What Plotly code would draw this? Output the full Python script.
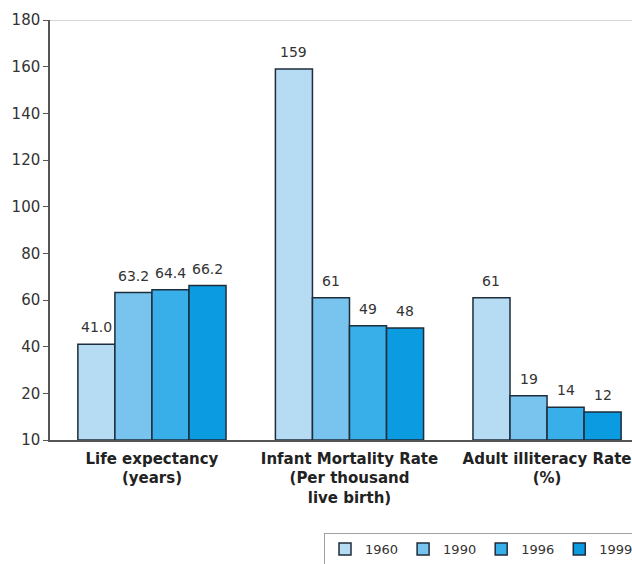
import plotly.graph_objects as go

# Indicators shown on the category axis
categories = [
    "Life expectancy<br>(years)",
    "Infant Mortality Rate<br>(Per thousand<br>live birth)",
    "Adult illiteracy Rate<br>(%)",
]
years = ["1960", "1990", "1996", "1999"]

# One list of values per year, ordered like the categories
values_1960 = [41.0, 159, 61]
values_1990 = [63.2, 61, 19]
values_1996 = [64.4, 49, 14]
values_1999 = [66.2, 48, 12]
series = [values_1960, values_1990, values_1996, values_1999]

# Number format of the value labels, per category
label_formats = ["{:.1f}", "{:.0f}", "{:.0f}"]

# y axis ticks (the baseline is labelled 10)
tick_vals = [0, 20, 40, 60, 80, 100, 120, 140, 160, 180]
tick_text = ["10", "20", "40", "60", "80", "100", "120", "140", "160", "180"]

colors = ["#b6dcf4", "#78c4ee", "#38afe8", "#0a9be0"]
outline = "#1e2d3b"

W, H = 632, 564
ML, MR, MT, MB = 50, 0, 20, 124
BARGAP = 0.25
X_RANGE = [-0.516, 2.43]

fig = go.Figure()
for name, vals, col in zip(years, series, colors):
    fig.add_trace(go.Bar(
        name=name,
        x=categories,
        y=vals,
        marker=dict(color=col, line=dict(color=outline, width=1.5)),
    ))

# value labels above each bar
plot_w = W - ML - MR
px_per_unit = plot_w / (X_RANGE[1] - X_RANGE[0])
bar_w = (1 - BARGAP) / len(years)
for i, vals in enumerate(series):
    shift = (i - (len(years) - 1) / 2) * bar_w * px_per_unit
    for cat, v, fmt in zip(categories, vals, label_formats):
        fig.add_annotation(
            x=cat, y=v, text=fmt.format(v), showarrow=False,
            xshift=shift, yshift=7, yanchor="bottom",
            font=dict(family="DejaVu Sans", size=14, color="#333333"),
        )

# thin grey line across the top of the plot
fig.add_shape(type="line", xref="paper", yref="y", x0=0, x1=1, y0=180, y1=180,
              line=dict(color="#c8c8c8", width=1.5))

fig.update_layout(
    width=W, height=H,
    margin=dict(l=ML, r=MR, t=MT, b=MB),
    barmode="group", bargap=BARGAP, bargroupgap=0,
    plot_bgcolor="white", paper_bgcolor="white",
    font=dict(family="DejaVu Sans", color="#333333"),
    xaxis=dict(
        range=X_RANGE, showgrid=False, showline=True, linecolor="#555555",
        linewidth=1.5, ticks="", tickfont=dict(size=15, color="#222222",
        family="DejaVu Sans", weight="bold"),
        ticklabelstandoff=4,
    ),
    yaxis=dict(
        range=[0, 180], tickvals=tick_vals, ticktext=tick_text,
        showgrid=False, zeroline=False, showline=True, linecolor="#555555",
        linewidth=1.5, ticks="outside", ticklen=5, tickcolor="#555555",
        tickfont=dict(size=15, color="#333333"),
    ),
    legend=dict(
        orientation="h", xref="container", yref="container",
        x=324 / W, y=1 - 533 / H, xanchor="left", yanchor="top",
        bordercolor="#a0a0a0", borderwidth=1, bgcolor="white",
        font=dict(size=13, color="#333333"), itemwidth=30,
        traceorder="normal",
    ),
    showlegend=True,
)

fig.write_html("out.html")
